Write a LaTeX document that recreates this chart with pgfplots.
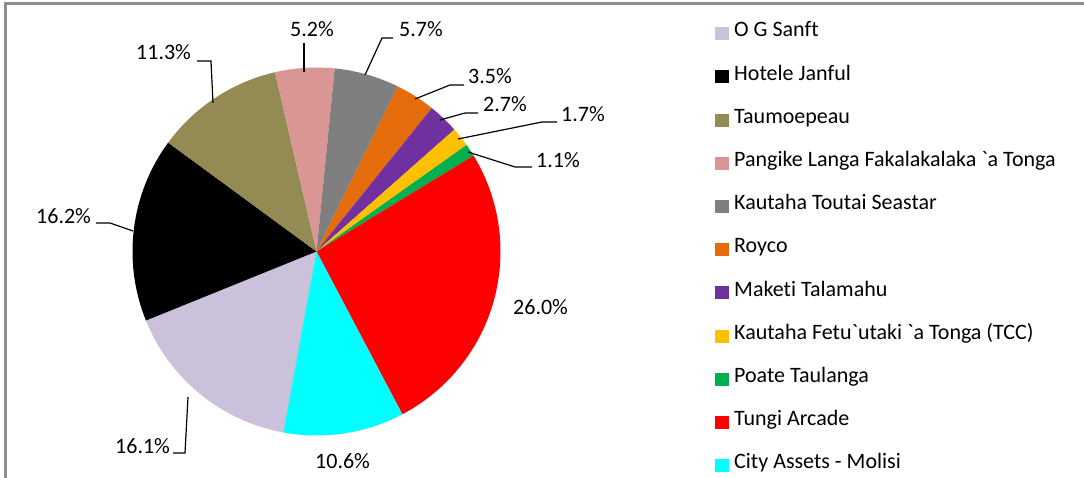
\documentclass[border=0pt]{standalone}
\usepackage{fontspec}
\setmainfont{Carlito}[Ligatures={NoCommon}]
\usepackage{pgfplots}
\pgfplotsset{compat=1.18}

\definecolor{cLav}{HTML}{CCC1DA}
\definecolor{cBlk}{HTML}{000000}
\definecolor{cOli}{HTML}{948A54}
\definecolor{cPnk}{HTML}{D99694}
\definecolor{cGry}{HTML}{7F7F7F}
\definecolor{cOrg}{HTML}{E46C0A}
\definecolor{cPur}{HTML}{7030A0}
\definecolor{cYel}{HTML}{FFC000}
\definecolor{cGrn}{HTML}{00B050}
\definecolor{cRed}{HTML}{FF0000}
\definecolor{cCya}{HTML}{00FFFF}
\definecolor{frame}{HTML}{8E8E8E}

% pie centre and radius (axis units = bp)
\def\pcx{316.5}
\def\pcy{226.5}
\def\prad{184}
\gdef\cumangle{260}
% #1 colour, #2 percentage, #3 legend text
\newcommand\pieslice[3]{%
  \pgfmathsetmacro\angA{\cumangle}%
  \pgfmathsetmacro\angB{\cumangle-#2*3.6}%
  \edef\tmp{\noexpand\addplot[fill=#1, draw=none] coordinates {(\pcx,\pcy)}
    -- ++(\angA:\prad bp) arc[start angle=\angA, end angle=\angB, radius=\prad bp] -- cycle;}%
  \tmp
  \addlegendentry{#3}%
  \xdef\cumangle{\angB}%
}

\begin{document}
\begin{tikzpicture}
\useasboundingbox (0,0) rectangle (1084bp,478bp);
\begin{axis}[
  scale only axis, width=1084bp, height=478bp,
  xmin=0, xmax=1084, ymin=0, ymax=478,
  hide axis, clip=false,
  font=\fontsize{22bp}{26bp}\selectfont,
  legend image code/.code={\path[#1, draw=none] (0bp,-6.5bp) rectangle (13.5bp,6.5bp);},
  legend cell align=left,
  legend style={draw=none, fill=none, inner sep=0pt, at={(axis cs:715,451)}, anchor=north west,
    font=\fontsize{22bp}{26bp}\selectfont,
    nodes={inner sep=0pt, text height=0.84em, text depth=0.2em},
    column sep=5.5bp, row sep=30.2bp},
]
\pieslice{cLav}{16.1}{O G Sanft}
\pieslice{cBlk}{16.2}{Hotele Janful}
\pieslice{cOli}{11.3}{Taumoepeau}
\pieslice{cPnk}{5.2}{Pangike Langa Fakalakalaka \textasciigrave a Tonga}
\pieslice{cGry}{5.7}{Kautaha Toutai Seastar}
\pieslice{cOrg}{3.5}{Royco}
\pieslice{cPur}{2.7}{Maketi Talamahu}
\pieslice{cYel}{1.7}{Kautaha Fetu\textasciigrave utaki \textasciigrave a Tonga (TCC)}
\pieslice{cGrn}{1.1}{Poate Taulanga}
\pieslice{cRed}{26.0}{Tungi Arcade}
\pieslice{cCya}{10.6}{City Assets - Molisi}

% frame
\draw[frame, line width=2.5bp] (axis cs:5.5,0) -- (axis cs:5.5,474.5) -- (axis cs:1084,474.5);

% leader lines
\begin{scope}[line width=1.2bp, black]
\draw (axis cs:304,435) -- (axis cs:304,406);
\draw (axis cs:197,417) -- (axis cs:211,417) -- (axis cs:213,375);
\draw (axis cs:393,440) -- (axis cs:382,440) -- (axis cs:365,403);
\draw (axis cs:464,393) -- (axis cs:450,393) -- (axis cs:415,379);
\draw (axis cs:478,365) -- (axis cs:465,365) -- (axis cs:440,358);
\draw (axis cs:557,356) -- (axis cs:542,356) -- (axis cs:458,339);
\draw (axis cs:532,311) -- (axis cs:515,311) -- (axis cs:468,326);
\draw (axis cs:96,255) -- (axis cs:110,255) -- (axis cs:133,247);
\draw (axis cs:173,25) -- (axis cs:185,25) -- (axis cs:188,81);
\end{scope}

% percentage labels
\begin{scope}[every node/.style={anchor=base west, inner sep=0pt, font=\fontsize{22bp}{26bp}\selectfont}]
\node at (axis cs:290,441) {5.2\%};
\node at (axis cs:136,418) {11.3\%};
\node at (axis cs:399,441) {5.7\%};
\node at (axis cs:468,394) {3.5\%};
\node at (axis cs:483,366) {2.7\%};
\node at (axis cs:561,356) {1.7\%};
\node at (axis cs:536,310) {1.1\%};
\node at (axis cs:36,254) {16.2\%};
\node at (axis cs:115,25) {16.1\%};
\node at (axis cs:315,10) {10.6\%};
\node at (axis cs:513,163) {26.0\%};
\end{scope}
\end{axis}
\end{tikzpicture}
\end{document}
